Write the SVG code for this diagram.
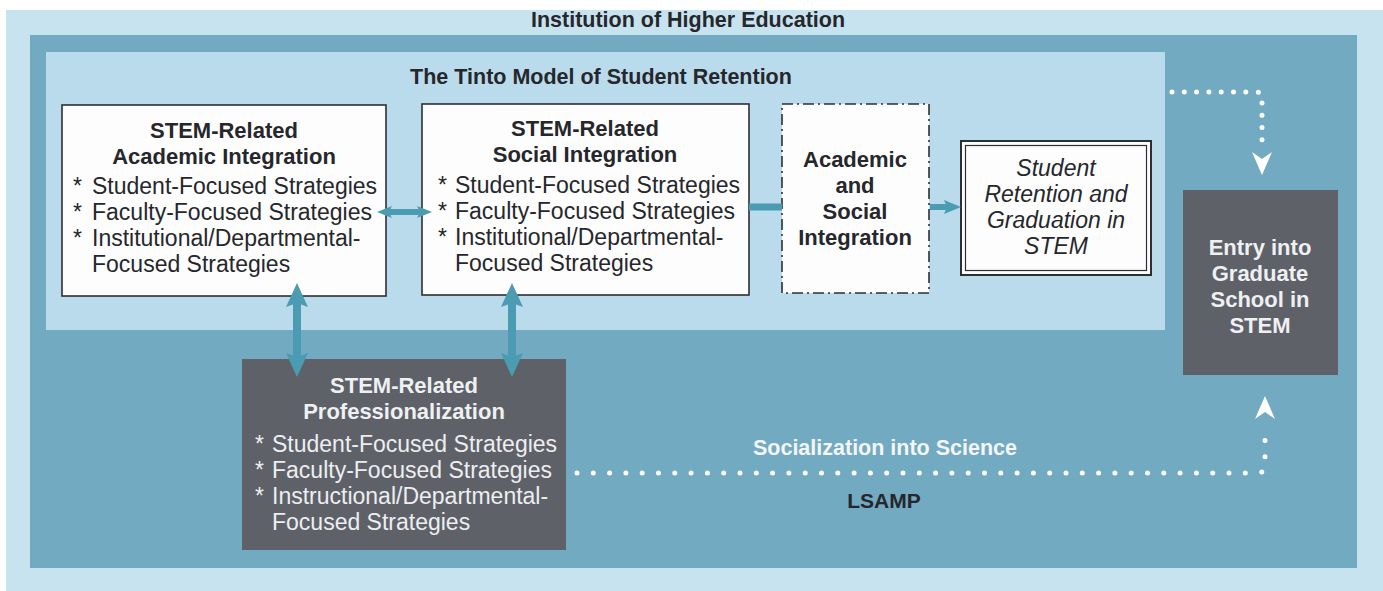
<svg xmlns="http://www.w3.org/2000/svg" width="1383" height="591" viewBox="0 0 1383 591">
<style>
.t{font-family:"Liberation Sans",Arial,sans-serif}
.hb{font-family:"Liberation Sans",Arial,sans-serif;font-weight:bold;font-size:22px;fill:#26272b;text-anchor:middle}
.li{font-family:"Liberation Sans",Arial,sans-serif;font-size:23px;fill:#26272b}
.hbw{font-family:"Liberation Sans",Arial,sans-serif;font-weight:bold;font-size:22px;fill:#eef0f2;text-anchor:middle}
.liw{font-family:"Liberation Sans",Arial,sans-serif;font-size:23px;fill:#eceef0}
.box{fill:#fdfdfd;stroke:#2e2f33;stroke-width:1.6}
.dark{fill:#5f6169}
.conn{stroke:#4b9bb3;fill:none}
.dots{stroke:#ffffff;fill:none;stroke-width:5;stroke-linecap:round}
</style>
<defs>
<marker id="bigHead" viewBox="0 0 24 22" refX="4" refY="11" markerWidth="24" markerHeight="22" markerUnits="userSpaceOnUse" orient="auto-start-reverse">
<path d="M0,0 L24,11 L0,22 L4,11 Z" fill="#4b9bb3"/>
</marker>
<marker id="smallHead" viewBox="0 0 15 12" refX="5" refY="6" markerWidth="15" markerHeight="12" markerUnits="userSpaceOnUse" orient="auto-start-reverse">
<path d="M0,0 L15,6 L0,12 L3,6 Z" fill="#4b9bb3"/>
</marker>
<marker id="midHead" viewBox="0 0 17 14" refX="7" refY="7" markerWidth="17" markerHeight="14" markerUnits="userSpaceOnUse" orient="auto">
<path d="M0,0 L17,7 L0,14 L3,7 Z" fill="#4b9bb3"/>
</marker>
</defs>

<g id="background">
<rect x="0" y="0" width="1383" height="591" fill="#ffffff"/>
<rect x="6" y="10" width="1377" height="581" fill="#c8e3f0"/>
<text class="t" x="688" y="27" font-size="21.5" font-weight="bold" fill="#26272b" text-anchor="middle">Institution of Higher Education</text>
<rect x="30" y="35" width="1327" height="533" fill="#72aac2"/>
<rect x="46" y="52" width="1119" height="278" fill="#b9dbeb"/>
<text class="t" x="601" y="84" font-size="21.5" font-weight="bold" fill="#26272b" text-anchor="middle">The Tinto Model of Student Retention</text>
<text class="t" x="885" y="455" font-size="21.5" font-weight="bold" fill="#f4f6f8" text-anchor="middle">Socialization into Science</text>
<text class="t" x="884" y="508" font-size="21" font-weight="bold" fill="#26272b" text-anchor="middle">LSAMP</text>
</g>

<g id="node-academic-integration">
<rect class="box" x="62" y="105" width="324" height="191"/>
<text class="hb" x="224" y="138">STEM-Related</text>
<text class="hb" x="224" y="164">Academic Integration</text>
<text class="li"><tspan x="73" y="194">*</tspan><tspan x="92" y="194">Student-Focused Strategies</tspan></text>
<text class="li"><tspan x="73" y="220">*</tspan><tspan x="92" y="220">Faculty-Focused Strategies</tspan></text>
<text class="li"><tspan x="73" y="246">*</tspan><tspan x="92" y="246">Institutional/Departmental-</tspan></text>
<text class="li" x="92" y="272">Focused Strategies</text>
</g>

<g id="node-social-integration">
<rect class="box" x="422" y="104" width="327" height="191"/>
<text class="hb" x="585" y="136">STEM-Related</text>
<text class="hb" x="585" y="162">Social Integration</text>
<text class="li"><tspan x="438" y="193">*</tspan><tspan x="455" y="193">Student-Focused Strategies</tspan></text>
<text class="li"><tspan x="438" y="219">*</tspan><tspan x="455" y="219">Faculty-Focused Strategies</tspan></text>
<text class="li"><tspan x="438" y="245">*</tspan><tspan x="455" y="245">Institutional/Departmental-</tspan></text>
<text class="li" x="455" y="271">Focused Strategies</text>
</g>

<g id="node-academic-social">
<rect x="782" y="104" width="147" height="189" fill="#fdfdfd" stroke="#2e2f33" stroke-width="1.6" stroke-dasharray="11 4 2 4"/>
<text class="hb" x="855" y="167">Academic</text>
<text class="hb" x="855" y="193">and</text>
<text class="hb" x="855" y="219">Social</text>
<text class="hb" x="855" y="245">Integration</text>
</g>

<g id="node-retention">
<rect x="961" y="141" width="190" height="134" fill="#fdfdfd" stroke="#2e2f33" stroke-width="2"/>
<rect x="965.5" y="145.5" width="181" height="125" fill="none" stroke="#2e2f33" stroke-width="1.2"/>
<text class="li" x="1056" y="176" font-style="italic" text-anchor="middle">Student</text>
<text class="li" x="1056" y="202" font-style="italic" text-anchor="middle">Retention and</text>
<text class="li" x="1056" y="228" font-style="italic" text-anchor="middle">Graduation in</text>
<text class="li" x="1056" y="254" font-style="italic" text-anchor="middle">STEM</text>
</g>

<g id="node-graduate-school">
<rect class="dark" x="1183" y="190" width="155" height="185"/>
<text class="hbw" x="1260" y="255">Entry into</text>
<text class="hbw" x="1260" y="281">Graduate</text>
<text class="hbw" x="1260" y="307">School in</text>
<text class="hbw" x="1260" y="333">STEM</text>
</g>

<g id="node-professionalization">
<rect class="dark" x="242" y="359" width="324" height="191"/>
<text class="hbw" x="404" y="393">STEM-Related</text>
<text class="hbw" x="404" y="419">Professionalization</text>
<text class="liw"><tspan x="255" y="452">*</tspan><tspan x="272" y="452">Student-Focused Strategies</tspan></text>
<text class="liw"><tspan x="255" y="478">*</tspan><tspan x="272" y="478">Faculty-Focused Strategies</tspan></text>
<text class="liw"><tspan x="255" y="504">*</tspan><tspan x="272" y="504">Instructional/Departmental-</tspan></text>
<text class="liw" x="272" y="530">Focused Strategies</text>
</g>

<g id="connectors">
<line class="conn" x1="387" y1="212" x2="422" y2="212" stroke-width="6" marker-start="url(#smallHead)" marker-end="url(#smallHead)"/>
<line class="conn" x1="749" y1="207" x2="782" y2="207" stroke-width="7"/>
<line class="conn" x1="930" y1="207" x2="951" y2="207" stroke-width="6" marker-end="url(#midHead)"/>
<line class="conn" x1="297" y1="303" x2="297" y2="357" stroke-width="8" marker-start="url(#bigHead)" marker-end="url(#bigHead)"/>
<line class="conn" x1="512" y1="303" x2="512" y2="357" stroke-width="8" marker-start="url(#bigHead)" marker-end="url(#bigHead)"/>
<path class="dots" d="M1172,92 H1256 Q1262,92 1262,98 V150" stroke-dasharray="0 12.3"/>
<polygon points="1262,175 1252,152 1262,159 1272,152" fill="#ffffff"/>
<path class="dots" d="M577,473 H1257 Q1265,473 1265,465 V430" stroke-dasharray="0 16.3"/>
<polygon points="1265,396 1255,419 1265,412 1275,419" fill="#ffffff"/>
</g>
</svg>
